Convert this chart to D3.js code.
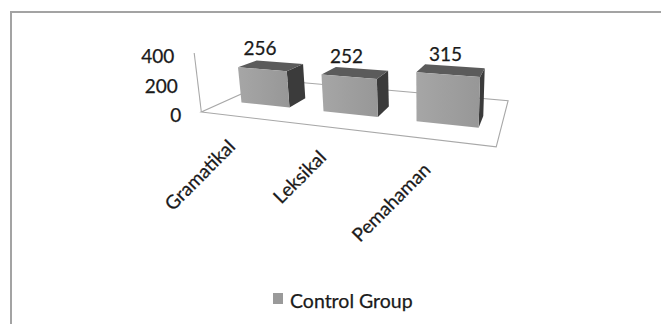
<!DOCTYPE html>
<html><head><meta charset="utf-8">
<script src="https://cdn.jsdelivr.net/npm/d3@7"></script>
<style>
  body { margin: 0; background: #fff; }
  text { font-family: Lato, "Open Sans", sans-serif; fill: #1a1a1a; stroke: #1a1a1a; stroke-width: 0.25; }
</style>
</head><body>
<svg id="chart" width="661" height="324"></svg>
<script>
// Data
const categories = ["Gramatikal", "Leksikal", "Pemahaman"];
const seriesName = "Control Group";
const values = [256, 252, 315];
const yTicks = [0, 200, 400];

// World space: x runs across the categories (0..3), y is the value
// height (0..1 for 0..400), z is depth (0 = front of floor, 1 = back).
const x = d3.scaleBand().domain(categories).range([0, 3])
  .paddingInner(0.4).paddingOuter(0.2);
const y = d3.scaleLinear().domain([0, 400]).range([0, 1]);
const zFront = 0.3, zBack = 0.56;

// Perspective camera (3x4 projective matrix, last entry 1).
const CAM = [
  66.959866, -13.094412, 141.87779, 201.33703,
  2.3433562, -60.655712, -11.225834, 112.05485,
  -0.063141073, -0.030652270, 0.26026996, 1
];
function project(X, Y, Z) {
  const w = CAM[8] * X + CAM[9] * Y + CAM[10] * Z + CAM[11];
  return [
    (CAM[0] * X + CAM[1] * Y + CAM[2] * Z + CAM[3]) / w,
    (CAM[4] * X + CAM[5] * Y + CAM[6] * Z + CAM[7]) / w
  ];
}
const pts = arr => arr.map(p => p.join(",")).join(" ");

const svg = d3.select("#chart");

// Gradient for the front faces
const defs = svg.append("defs");
const g = defs.append("linearGradient").attr("id", "frontFace")
  .attr("x1", 0).attr("x2", 1).attr("y1", 0).attr("y2", 0);
g.append("stop").attr("offset", 0).attr("stop-color", "#a6a6a6");
g.append("stop").attr("offset", 1).attr("stop-color", "#979797");

// Chart area border
svg.append("path")
  .attr("d", "M11,324 V12 H661")
  .attr("fill", "none").attr("stroke", "#a3a3a3").attr("stroke-width", 2);

// Floor outline
const xMax = x.range()[1];
svg.append("polygon")
  .attr("points", pts([project(0, 0, 0), project(xMax, 0, 0), project(xMax, 0, 1), project(0, 0, 1)]))
  .attr("fill", "none").attr("stroke", "#a8a8a8").attr("stroke-width", 1.1);

// Value axis line along the front-left edge of the side wall
const a0 = project(0, y(0), 0), a1 = project(0, y(400), 0);
svg.append("line")
  .attr("x1", a0[0]).attr("y1", a0[1]).attr("x2", a1[0]).attr("y2", a1[1])
  .attr("stroke", "#a8a8a8").attr("stroke-width", 1.1);

// Value axis labels
svg.append("g").selectAll("text").data(yTicks).join("text")
  .each(function (t) {
    const p = project(0, y(t), 0);
    d3.select(this).attr("x", p[0] - 20).attr("y", p[1] + 2.5);
  })
  .attr("text-anchor", "end").attr("dominant-baseline", "central")
  .attr("font-size", 19)
  .text(d => d);

// Bars: right side, top and front faces
const bars = svg.append("g").selectAll("g").data(values).join("g");
bars.each(function (v, i) {
  const gEl = d3.select(this);
  const x0 = x(categories[i]), x1 = x0 + x.bandwidth(), h = y(v);
  gEl.append("polygon")
    .attr("points", pts([project(x1, 0, zFront), project(x1, 0, zBack), project(x1, h, zBack), project(x1, h, zFront)]))
    .attr("fill", "#3b3b3b");
  gEl.append("polygon")
    .attr("points", pts([project(x0, h, zFront), project(x1, h, zFront), project(x1, h, zBack), project(x0, h, zBack)]))
    .attr("fill", "#5b5b5b");
  gEl.append("polygon")
    .attr("points", pts([project(x0, 0, zFront), project(x1, 0, zFront), project(x1, h, zFront), project(x0, h, zFront)]))
    .attr("fill", "url(#frontFace)");
});

// Data labels above each bar
svg.append("g").selectAll("text").data(values).join("text")
  .each(function (v, i) {
    const p = project(x(categories[i]) + x.bandwidth() / 2, y(v), zFront);
    d3.select(this).attr("x", p[0] - 2).attr("y", p[1] - 14);
  })
  .attr("text-anchor", "middle").attr("font-size", 19)
  .text(d => d);

// Category labels, rotated under the front edge of the floor
svg.append("g").selectAll("text").data(categories).join("text")
  .each(function (c) {
    const p = project(x(c) + x.bandwidth() / 2, 0, 0);
    const tx = p[0] - 6, ty = p[1] + 31;
    d3.select(this).attr("transform", `translate(${tx},${ty}) rotate(-45)`);
  })
  .attr("text-anchor", "end").attr("font-size", 19)
  .text(d => d);

// Legend
const legend = svg.append("g").attr("transform", "translate(273,293)");
legend.append("rect").attr("width", 10).attr("height", 11).attr("fill", "#9a9a9a");
legend.append("text").attr("x", 17).attr("y", 15).attr("font-size", 19.5).text(seriesName);
</script>
</body></html>
